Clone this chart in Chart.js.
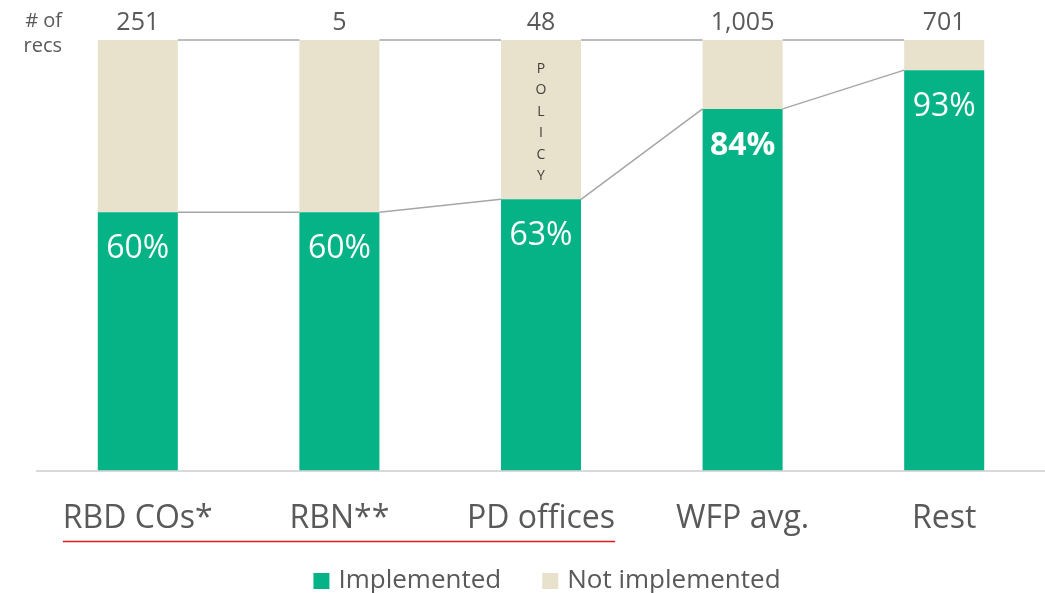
<!DOCTYPE html>
<html lang="en">
<head>
    <meta charset="UTF-8">
    <title>Recommendations implemented</title>
    <script src="https://cdn.jsdelivr.net/npm/chart.js"></script>
    <style>
        html, body { margin: 0; padding: 0; background: #fff; }
        #wrap { width: 1045px; height: 593px; position: relative; }
    </style>
</head>
<body>
    <div id="wrap">
        <canvas id="implChart"></canvas>
    </div>

    <script>
        // Data
        const categories = ['RBD COs*', 'RBN**', 'PD offices', 'WFP avg.', 'Rest'];
        const implemented = [60, 60, 63, 84, 93];
        const notImplemented = [40, 40, 37, 16, 7];
        const recCounts = [251, 5, 48, 1005, 701];
        const boldLabel = 'WFP avg.';
        const policyCategory = 'PD offices';
        const policyText = 'POLICY';
        const underlined = ['RBD COs*', 'RBN**', 'PD offices'];

        const GREEN = '#05b387';
        const BEIGE = '#e8e1cb';
        const TEXT = '#595959';
        const FONT = "'Open Sans', sans-serif";

        // Annotations: counts, connectors, % labels, POLICY, underline, legend
        const annotations = {
            id: 'annotations',
            afterDatasetsDraw(chart) {
                const ctx = chart.ctx;
                const x = chart.scales.x;
                const y = chart.scales.y;
                const metaImpl = chart.getDatasetMeta(0);
                const top = y.getPixelForValue(100);

                ctx.save();

                // connector lines between bars
                ctx.strokeStyle = '#a6a6a6';
                ctx.lineWidth = 1.5;
                for (let i = 0; i < categories.length - 1; i++) {
                    const a = metaImpl.data[i];
                    const b = metaImpl.data[i + 1];
                    ctx.beginPath();
                    ctx.moveTo(a.x + a.width / 2, y.getPixelForValue(implemented[i]));
                    ctx.lineTo(b.x - b.width / 2, y.getPixelForValue(implemented[i + 1]));
                    ctx.moveTo(a.x + a.width / 2, top);
                    ctx.lineTo(b.x - b.width / 2, top);
                    ctx.stroke();
                }

                // percentage labels inside green part
                ctx.fillStyle = '#fff';
                ctx.textAlign = 'center';
                ctx.textBaseline = 'middle';
                categories.forEach((c, i) => {
                    const bar = metaImpl.data[i];
                    ctx.font = (c === boldLabel ? 'bold ' : '') + '32px ' + FONT;
                    ctx.fillText(implemented[i] + '%', bar.x, y.getPixelForValue(implemented[i]) + 37);
                });

                // counts above bars
                ctx.fillStyle = TEXT;
                ctx.font = '25px ' + FONT;
                categories.forEach((c, i) => {
                    ctx.fillText(recCounts[i].toLocaleString('en-US'), x.getPixelForValue(i), top - 17);
                });

                // "# of recs"
                ctx.font = '20px ' + FONT;
                ctx.textAlign = 'right';
                ctx.fillText('# of', 62, 21);
                ctx.fillText('recs', 62, 46);

                // POLICY vertical letters
                const pi = categories.indexOf(policyCategory);
                ctx.font = '14px ' + FONT;
                ctx.textAlign = 'center';
                ctx.fillStyle = '#404040';
                policyText.split('').forEach((ch, k) => {
                    ctx.fillText(ch, x.getPixelForValue(pi), 69 + k * 21.4);
                });

                // red underline below first group of labels
                ctx.font = '32px ' + FONT;
                const first = categories.indexOf(underlined[0]);
                const last = categories.indexOf(underlined[underlined.length - 1]);
                const x0 = x.getPixelForValue(first) - ctx.measureText(categories[first]).width / 2;
                const x1 = x.getPixelForValue(last) + ctx.measureText(categories[last]).width / 2;
                ctx.strokeStyle = '#e0191e';
                ctx.lineWidth = 1.5;
                ctx.beginPath();
                ctx.moveTo(x0, 541.5);
                ctx.lineTo(x1, 541.5);
                ctx.stroke();

                // legend from the datasets
                ctx.font = '26px ' + FONT;
                ctx.textAlign = 'left';
                const box = 16, gapText = 9, gapItem = 41;
                const items = chart.data.datasets.map(ds => ({
                    label: ds.label, color: ds.backgroundColor,
                    w: box + gapText + ctx.measureText(ds.label).width
                }));
                const total = items.reduce((s, it) => s + it.w, 0) + gapItem * (items.length - 1);
                let lx = 547 - total / 2;
                const ly = 581;
                items.forEach(it => {
                    ctx.fillStyle = it.color;
                    ctx.fillRect(lx, ly - box / 2, box, box);
                    ctx.fillStyle = TEXT;
                    ctx.fillText(it.label, lx + box + gapText, ly);
                    lx += it.w + gapItem;
                });

                ctx.restore();
            }
        };

        new Chart(document.getElementById('implChart'), {
            type: 'bar',
            data: {
                labels: categories,
                datasets: [{
                    label: 'Implemented',
                    data: implemented,
                    backgroundColor: GREEN,
                    barPercentage: 0.397,
                    categoryPercentage: 1
                }, {
                    label: 'Not implemented',
                    data: notImplemented,
                    backgroundColor: BEIGE,
                    barPercentage: 0.397,
                    categoryPercentage: 1
                }]
            },
            options: {
                responsive: true,
                maintainAspectRatio: false,
                animation: false,
                layout: { padding: { top: 40, left: 37, right: 0, bottom: 26 } },
                scales: {
                    x: {
                        stacked: true,
                        grid: { display: false, drawTicks: false },
                        border: { display: true, color: '#d9d9d9', width: 2 },
                        ticks: {
                            color: TEXT,
                            font: { family: FONT, size: 32 },
                            padding: 29
                        }
                    },
                    y: {
                        stacked: true,
                        display: false,
                        min: 0,
                        max: 100
                    }
                },
                plugins: {
                    legend: { display: false },
                    tooltip: { enabled: false }
                }
            },
            plugins: [annotations]
        });
    </script>
</body>
</html>
